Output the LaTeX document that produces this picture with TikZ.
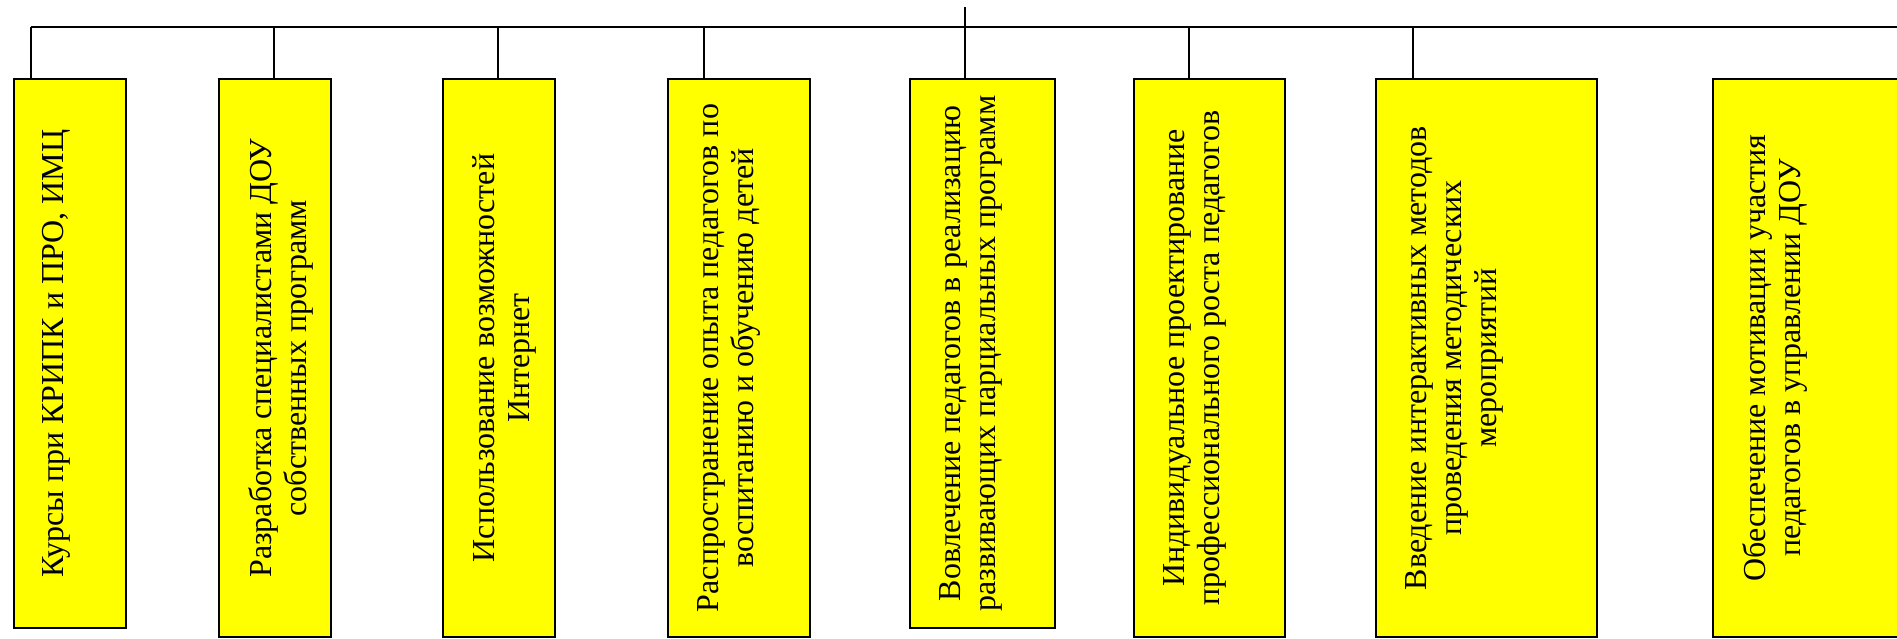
\documentclass[tikz,border=0pt]{standalone}
\usepackage{fontspec}
\setmainfont{Liberation Serif}
\usepackage{tikz}
\tikzset{>=latex}
\definecolor{boxfill}{HTML}{FFFF00}
\tikzset{
  box/.style={draw, line width=2pt, fill=boxfill, anchor=north west, inner sep=0pt},
  boxtext/.style={rotate=90, anchor=north, align=center, inner xsep=0pt, inner ysep=30pt, font=\fontsize{32}{35}\selectfont},
  link/.style={line width=2pt},
}

\begin{document}
\begin{tikzpicture}[x=1pt, y=-1pt]
            \useasboundingbox (0, 0) rectangle (1897, 638);
            \clip (0, 0) rectangle (1897, 638);
            \node[box, minimum width=112.5pt, minimum height=549pt] (b1) at (12.5, 78) {};
            \node[box, minimum width=112pt, minimum height=558pt] (b2) at (218, 78) {};
            \node[box, minimum width=112pt, minimum height=558pt] (b3) at (442, 78) {};
            \node[box, minimum width=142pt, minimum height=558pt] (b4) at (667, 78) {};
            \node[box, minimum width=145pt, minimum height=549pt] (b5) at (909, 78) {};
            \node[box, minimum width=151pt, minimum height=558pt] (b6) at (1133, 78) {};
            \node[box, minimum width=221pt, minimum height=558pt] (b7) at (1375, 78) {};
            \node[box, minimum width=200pt, minimum height=558pt] (b8) at (1712, 78) {};
            \node[boxtext] (l1) at (b1.west) {Курсы при КРИПК и ПРО, ИМЦ};
            \node[boxtext] (l2) at (b2.west) {Разработка специалистами ДОУ\\собственных программ};
            \node[boxtext] (l3) at (b3.west) {Использование возможностей\\Интернет};
            \node[boxtext] (l4) at (b4.west) {Распространение опыта педагогов по\\воспитанию и обучению детей};
            \node[boxtext] (l5) at (b5.west) {Вовлечение педагогов в реализацию\\развивающих парциальных программ};
            \node[boxtext] (l6) at (b6.west) {Индивидуальное проектирование\\профессионального роста педагогов};
            \node[boxtext] (l7) at (b7.west) {Введение интерактивных методов\\проведения методических\\мероприятий};
            \node[boxtext] (l8) at (b8.west) {Обеспечение мотивации участия\\педагогов в управлении ДОУ};
            % top line and stubs
            \coordinate (root) at (965, 7);
            \coordinate (s1) at (31, 27);
            \coordinate (s2) at (274, 27);
            \coordinate (s3) at (498, 27);
            \coordinate (s4) at (704, 27);
            \coordinate (s6) at (1189, 27);
            \coordinate (s7) at (1413, 27);
            \coordinate (sR) at (1905, 27);
            \draw[link] (s1) -- (sR);
            \draw[link] (root) -- (root |- b5.north);
            \draw[link] (s1) -- (s1 |- b1.north);
            \draw[link] (s2) -- (s2 |- b2.north);
            \draw[link] (s3) -- (s3 |- b3.north);
            \draw[link] (s4) -- (s4 |- b4.north);
            \draw[link] (s6) -- (s6 |- b6.north);
            \draw[link] (s7) -- (s7 |- b7.north);
        \end{tikzpicture}
\end{document}
